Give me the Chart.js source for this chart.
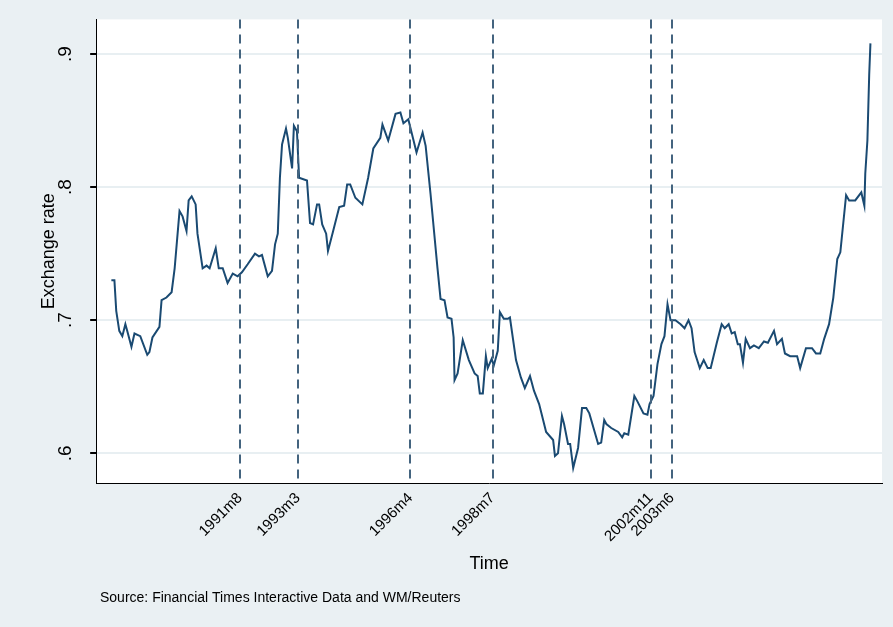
<!DOCTYPE html>
<html>
<head>
<meta charset="utf-8">
<script src="https://cdn.jsdelivr.net/npm/chart.js@4"></script>
<style>
  html, body { margin:0; padding:0; background:#eaf0f3; }
  #wrap { width:893px; height:627px; position:relative; }
</style>
</head>
<body>
<div id="wrap"><canvas id="chart"></canvas></div>
<script>
// months counted from 1988m1 (=0)
var months = [0.7,1.7,2.3,3.3,4.3,5.3,5.9,7.3,8.3,10.2,12.5,13.2,14.2,16.5,17.2,18.8,20.5,21.5,23.1,24.1,25.4,26.1,27.1,28.4,29.0,30.7,32.0,33.0,35.0,36.0,37.3,38.9,40.6,42.2,43.6,45.5,47.9,49.2,50.2,52.1,53.5,54.5,55.4,56.1,56.8,58.1,58.7,60.1,60.7,61.7,62.4,65.0,66.0,67.0,68.3,69.0,70.0,71.3,71.9,73.6,75.6,77.2,78.2,79.2,80.9,83.2,85.1,86.8,89.1,89.8,91.7,94.1,95.7,96.7,98.3,101.0,103.0,104.0,105.6,107.9,108.9,110.2,111.2,112.5,113.2,113.5,114.5,116.2,118.2,120.1,121.1,121.8,122.8,123.8,124.4,125.7,126.4,127.7,128.4,129.7,131.0,131.7,133.7,135.3,136.6,138.3,139.6,141.3,143.6,145.9,146.5,147.5,148.8,149.5,150.8,151.5,152.5,154.1,155.4,156.8,157.8,160.7,161.7,162.7,163.4,165.0,167.3,168.6,169.3,170.6,172.6,173.6,175.6,176.9,177.6,178.9,180.2,181.5,182.5,183.5,184.5,186.1,187.8,189.1,190.4,191.4,192.4,194.1,195.4,196.7,197.7,199.7,201.3,202.3,203.6,204.6,205.6,206.6,207.3,208.3,209.2,210.6,211.9,213.5,215.2,216.5,218.5,219.5,221.1,222.1,223.8,226.1,227.1,229.0,231.0,232.3,233.7,235.0,236.6,238.0,239.3,240.3,242.2,243.2,245.2,247.2,248.2,248.5,249.2,249.8,250.2];
var rates = [.730,.730,.707,.692,.688,.697,.692,.680,.690,.688,.674,.676,.687,.695,.715,.717,.721,.739,.782,.778,.767,.790,.793,.787,.765,.739,.741,.739,.754,.739,.739,.728,.735,.733,.736,.742,.750,.748,.749,.733,.737,.757,.765,.807,.832,.844,.837,.814,.846,.842,.807,.805,.773,.772,.787,.787,.772,.765,.752,.767,.785,.786,.802,.802,.792,.787,.807,.829,.837,.847,.835,.855,.856,.848,.851,.826,.841,.831,.795,.739,.716,.715,.702,.701,.687,.655,.660,.685,.670,.660,.658,.645,.645,.673,.664,.671,.666,.677,.706,.701,.701,.702,.670,.657,.649,.658,.647,.637,.616,.610,.598,.600,.628,.622,.607,.607,.589,.604,.634,.634,.630,.607,.608,.625,.622,.619,.616,.612,.615,.614,.643,.639,.630,.629,.637,.643,.667,.682,.688,.712,.700,.700,.697,.694,.700,.694,.676,.664,.670,.664,.664,.683,.697,.694,.697,.690,.691,.682,.682,.668,.686,.679,.681,.679,.684,.683,.692,.682,.686,.675,.673,.673,.664,.679,.679,.675,.675,.686,.697,.717,.746,.751,.794,.790,.790,.796,.786,.810,.835,.885,.908];
var eventMonths = [43, 62, 99, 126, 178, 185];
var eventLabels = ["1991m8", "1993m3", "1996m4", "1998m7", "2002m11", "2003m6"];
var yTicks = [0.6, 0.7, 0.8, 0.9];
var yTickLabels = [".6", ".7", ".8", ".9"];
var sourceNote = "Source: Financial Times Interactive Data and WM/Reuters";

var points = [];
for (var i = 0; i < months.length; i++) points.push({x: months[i], y: rates[i]});

var FONT = "Arial, 'Liberation Sans'";

var plotBg = {
  id: "plotBg",
  beforeDraw: function(chart) {
    var a = chart.chartArea, c = chart.ctx;
    c.save(); c.fillStyle = "#ffffff";
    c.fillRect(a.left, a.top, a.right - a.left, a.bottom - a.top);
    c.restore();
  },
  afterDatasetsDraw: function(chart) {
    var a = chart.chartArea, c = chart.ctx, xs = chart.scales.x, ys = chart.scales.y;
    c.save();
    c.strokeStyle = "#44647f"; c.lineWidth = 2; c.setLineDash([9, 6]);
    eventMonths.forEach(function(m) {
      var px = Math.round(xs.getPixelForValue(m));
      c.beginPath(); c.moveTo(px, a.top); c.lineTo(px, a.bottom); c.stroke();
    });
    c.setLineDash([]);
    // rotated y tick labels, Stata style
    c.fillStyle = "#000"; c.font = "19px " + FONT;
    c.textAlign = "center"; c.textBaseline = "middle";
    yTicks.forEach(function(v, k) {
      var py = ys.getPixelForValue(v);
      c.save(); c.translate(a.left - 30, py); c.rotate(-Math.PI / 2);
      c.fillText(yTickLabels[k], 0, 0); c.restore();
    });
    // source note
    c.textAlign = "left"; c.textBaseline = "middle"; c.font = "14px " + FONT;
    c.fillText(sourceNote, 100, 598);
    c.restore();
  }
};

new Chart(document.getElementById("chart"), {
  type: "line",
  plugins: [plotBg],
  data: {
    datasets: [{
      data: points,
      borderColor: "#1a4a72",
      borderWidth: 2,
      pointRadius: 0,
      tension: 0,
      fill: false
    }]
  },
  options: {
    responsive: true,
    maintainAspectRatio: false,
    animation: false,
    layout: { padding: { left: 34, right: 11, top: 0, bottom: 52 } },
    plugins: { legend: { display: false }, tooltip: { enabled: false } },
    scales: {
      x: {
        type: "linear", min: -4.3, max: 254,
        afterBuildTicks: function(s) { s.ticks = eventMonths.map(function(m) { return {value: m}; }); },
        ticks: {
          autoSkip: false, maxRotation: 45, minRotation: 45, color: "#000", padding: 0,
          font: { family: FONT, size: 15 },
          callback: function(v) { var k = eventMonths.indexOf(v); return k >= 0 ? eventLabels[k] : ""; }
        },
        grid: { display: false, drawTicks: true, tickLength: 6, tickColor: "#000" },
        border: { color: "#000", width: 1 },
        title: { display: true, text: "Time", color: "#000", font: { family: FONT, size: 18 }, padding: { top: 8, bottom: 0 } }
      },
      y: {
        min: 0.5775, max: 0.926,
        afterBuildTicks: function(s) { s.ticks = yTicks.map(function(v) { return {value: v}; }); },
        ticks: { color: "rgba(0,0,0,0)", font: { size: 19 }, padding: 8, callback: function() { return "  "; } },
        grid: { color: "#e8eff2", lineWidth: 2, tickLength: 6, tickColor: "#000" },
        border: { color: "#000", width: 1 },
        title: { display: true, text: "Exchange rate", color: "#000", font: { family: FONT, size: 18 }, padding: { bottom: 4 } }
      }
    }
  }
});
</script>
</body>
</html>
